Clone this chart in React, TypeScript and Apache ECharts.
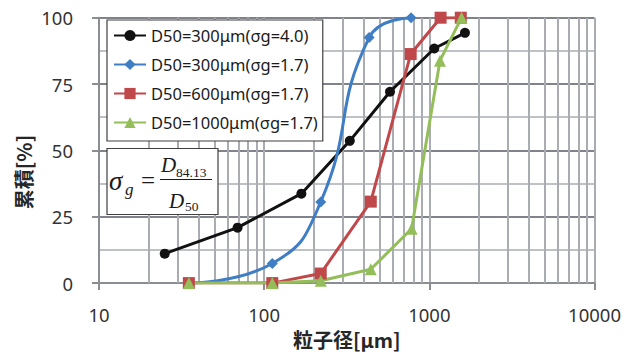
import React, { useEffect, useRef } from "react";
import * as echarts from "echarts";

const blackX = [25, 69, 168, 330, 578, 1071, 1643];
const blackY = [11.1, 20.9, 33.7, 53.6, 72.1, 88.4, 94.3];
const blueX = [35, 112, 220, 432, 775];
const blueY = [0, 7.4, 30.6, 92.5, 100];
const redX = [35, 112, 220, 442, 771, 1170, 1550];
const redY = [0, 0, 3.6, 30.7, 86.3, 100, 100];
const greenX = [35, 112, 220, 442, 781, 1160, 1567];
const greenY = [0, 0, 0.9, 5.2, 20.5, 83.8, 100];
const seriesNames = [
  "D50=300μm(σg=4.0)",
  "D50=300μm(σg=1.7)",
  "D50=600μm(σg=1.7)",
  "D50=1000μm(σg=1.7)",
];
const minorX = [20, 30, 40, 50, 60, 70, 80, 90, 200, 300, 400, 500, 600, 700, 800, 900, 2000, 3000, 4000, 5000, 6000, 7000, 8000, 9000];

const zip = (xs: number[], ys: number[]) => xs.map((x, i) => [x, ys[i]]);

export default function App() {
  const ref = useRef<HTMLDivElement>(null);
  useEffect(() => {
    const chart = echarts.init(ref.current!, undefined, { renderer: "svg" });
    const font = "'Noto Sans', sans-serif";
    const mk = (name: string, xs: number[], ys: number[], color: string, symbol: string, size: number, smooth = false) => ({
      name,
      type: "line",
      data: zip(xs, ys),
      smooth,
      symbol,
      symbolSize: size,
      z: 5,
      lineStyle: { color, width: 3 },
      itemStyle: { color },
      color,
    });
    const Z = 100;
    chart.setOption({
      animation: false,
      grid: { left: 99, right: 35.5, top: 17.7, bottom: 66 },
      xAxis: {
        type: "log",
        logBase: 10,
        min: 10,
        max: 10000,
        axisLine: { show: true, onZero: false, lineStyle: { color: "#8a8d92", width: 2 } },
        axisTick: { show: true, length: 7, lineStyle: { color: "#8a8d92", width: 2 } },
        axisLabel: { fontSize: 18.5, color: "#333", margin: 22, fontFamily: font, formatter: (v: number) => String(Math.round(v)) },
        splitLine: { show: true, lineStyle: { color: "#a9adb2", width: 2 } },
        name: "粒子径[μm]",
        nameLocation: "middle",
        nameGap: 43,
        nameTextStyle: { fontSize: 20, fontWeight: "bold", color: "#262626", fontFamily: "'Noto Sans CJK JP', sans-serif" },
      },
      yAxis: {
        type: "value",
        min: 0,
        max: 100,
        interval: 25,
        axisLine: { show: true, lineStyle: { color: "#8a8d92", width: 2 } },
        axisTick: { show: true, length: 7, lineStyle: { color: "#8a8d92", width: 2 } },
        axisLabel: { fontSize: 18.5, color: "#333", margin: 26, fontFamily: font },
        splitLine: { show: true, lineStyle: { color: "#80838a", width: 2 } },
        minorTick: { show: false, splitNumber: 2 },
        minorSplitLine: { show: true, lineStyle: { color: "#a9adb2", width: 1.7 } },
      },
      legend: {
        orient: "vertical",
        left: 107,
        top: 20,
        z: 50,
        data: seriesNames,
        backgroundColor: "#fff",
        borderColor: "#404040",
        borderWidth: 1.2,
        borderRadius: 0,
        padding: [7, 5, 10, 6],
        itemWidth: 32,
        itemHeight: 14,
        itemGap: 12,
        textStyle: { fontSize: 16.5, color: "#1a1a1a", fontFamily: font, padding: [0, 0, 0, 0] },
      },
      graphic: [
        { type: "rect", z: Z, shape: { x: 107, y: 148.5, width: 111, height: 66 }, style: { fill: "#fff", stroke: "#404040", lineWidth: 1.2 } },
        { type: "text", z: Z + 1, x: 109, y: 181, style: { text: "σ", font: "italic 27px 'Liberation Serif'", fill: "#1a1a1a", verticalAlign: "middle" } },
        { type: "text", z: Z + 1, x: 125, y: 189, style: { text: "g", font: "italic 17px 'Liberation Serif'", fill: "#1a1a1a", verticalAlign: "middle" } },
        { type: "text", z: Z + 1, x: 141, y: 180, style: { text: "=", font: "25px 'Liberation Serif'", fill: "#1a1a1a", verticalAlign: "middle" } },
        { type: "line", z: Z + 1, shape: { x1: 160, y1: 179.5, x2: 212, y2: 179.5 }, style: { stroke: "#1a1a1a", lineWidth: 1 } },
        { type: "text", z: Z + 1, x: 161, y: 165, style: { text: "D", font: "italic 21px 'Liberation Serif'", fill: "#1a1a1a", verticalAlign: "middle" } },
        { type: "text", z: Z + 1, x: 176, y: 172.5, style: { text: "84.13", font: "13.5px 'Liberation Serif'", fill: "#1a1a1a", verticalAlign: "middle" } },
        { type: "text", z: Z + 1, x: 169, y: 200.5, style: { text: "D", font: "italic 21px 'Liberation Serif'", fill: "#1a1a1a", verticalAlign: "middle" } },
        { type: "text", z: Z + 1, x: 185, y: 206.5, style: { text: "50", font: "13.5px 'Liberation Serif'", fill: "#1a1a1a", verticalAlign: "middle" } },
        {
          type: "text",
          z: Z,
          x: 23,
          y: 172,
          rotation: Math.PI / 2,
          style: {
            text: "累積[%]",
            font: "bold 20px 'Noto Sans CJK JP'",
            fill: "#262626",
            align: "center",
            verticalAlign: "middle",
          },
        },
      ],
      series: [
        {
          type: "line",
          data: [],
          z: 1,
          silent: true,
          markLine: {
            silent: true,
            z: 1,
            symbol: "none",
            label: { show: false },
            lineStyle: { color: "#a9adb2", width: 2, type: "solid" },
            data: minorX.map((v) => ({ xAxis: v })),
          },
        },
        mk(seriesNames[0], blackX, blackY, "#111111", "circle", 10),
        mk(seriesNames[1], blueX, blueY, "#3f7dc4", "diamond", 11, true),
        mk(seriesNames[2], redX, redY, "#c0474a", "rect", 12),
        mk(seriesNames[3], greenX, greenY, "#93be5a", "triangle", 12),
      ],
    });
    return () => chart.dispose();
  }, []);
  return <div ref={ref} style={{ width: 630, height: 354, position: "absolute", left: 0, top: 0 }} />;
}
